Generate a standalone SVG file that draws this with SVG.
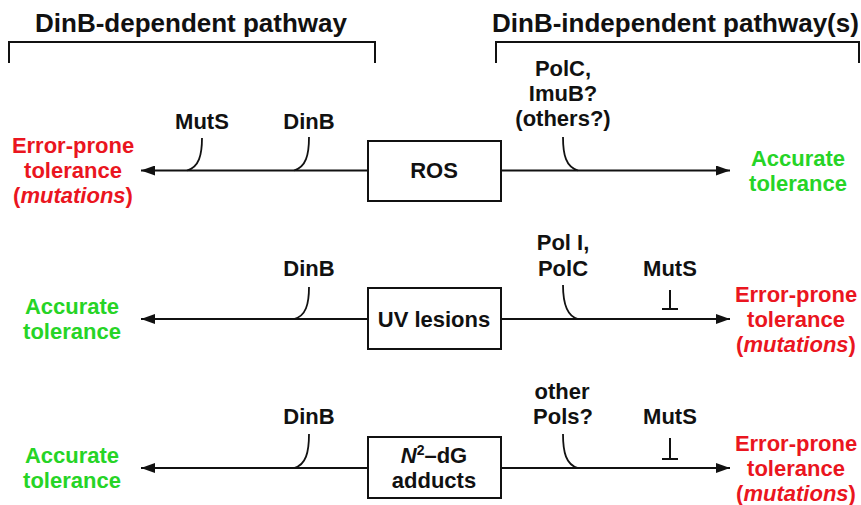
<svg xmlns="http://www.w3.org/2000/svg" width="861" height="505" viewBox="0 0 861 505">
<style>
text{font-family:"Liberation Sans",Arial,sans-serif;font-weight:bold;font-size:22px;text-anchor:middle;fill:#111}
.title{font-size:26px;text-anchor:start}
.red{fill:#ea1520}
.green{fill:#26d426}
.ln{stroke:#111;stroke-width:2;fill:none}
.cv{stroke:#111;stroke-width:1.8;fill:none}
.box{stroke:#111;stroke-width:2;fill:#fff}
</style>
<defs>
<marker id="ah" viewBox="0 0 14 10" refX="14" refY="5" markerWidth="14" markerHeight="10" markerUnits="userSpaceOnUse" orient="auto"><path d="M0,0 L14,5 L0,10 z" fill="#111"/></marker>
</defs>
<rect width="861" height="505" fill="#fff"/>
<g id="headers">
<text class="title" x="35" y="32">DinB-dependent pathway</text>
<path class="ln" d="M9,63 V42 H375 V63"/>
<text class="title" x="492" y="32">DinB-independent pathway(s)</text>
<path class="ln" d="M496,63 V42 H859 V63"/>
</g>
<g id="connectors">
<path class="ln" d="M368,170.5 H141" marker-end="url(#ah)"/>
<path class="ln" d="M501,170.5 H730" marker-end="url(#ah)"/>
<path class="cv" d="M202,138 C202,155 199,167 187,170.5"/>
<path class="cv" d="M309,137 C309,155 306,167 294,170.5"/>
<path class="cv" d="M563,137 C563,155 566,167 578,170.5"/>
<path class="ln" d="M368,319 H141" marker-end="url(#ah)"/>
<path class="ln" d="M501,319 H730" marker-end="url(#ah)"/>
<path class="cv" d="M309,287 C309,304 306,316 294,319"/>
<path class="cv" d="M563,285 C563,302 566,316 578,319"/>
<path class="ln" d="M670,290 V309 M662,309 H678"/>
<path class="ln" d="M368,468 H141" marker-end="url(#ah)"/>
<path class="ln" d="M501,468 H730" marker-end="url(#ah)"/>
<path class="cv" d="M309,434 C309,452 306,465 294,468"/>
<path class="cv" d="M563,434 C563,452 566,465 578,468"/>
<path class="ln" d="M670,438 V459 M662,459 H678"/>
</g>
<g id="ros">
<rect class="box" x="368" y="141" width="133" height="60"/>
<text x="434" y="178">ROS</text>
</g>
<g id="uv">
<rect class="box" x="368" y="288" width="133" height="61"/>
<text x="434" y="327">UV lesions</text>
</g>
<g id="adducts">
<rect class="box" x="368" y="437" width="133" height="61"/>
<text x="434" y="463"><tspan font-style="italic">N</tspan><tspan dy="-8" font-size="14">2</tspan><tspan dy="8">–dG</tspan></text>
<text x="434" y="488">adducts</text>
</g>
<g id="row1-labels">
<text x="202" y="129">MutS</text>
<text x="309" y="129">DinB</text>
<text x="563" y="76">PolC,</text>
<text x="563" y="101">ImuB?</text>
<text x="563" y="126">(others?)</text>
</g>
<g id="row1-left-outcome">
<text class="red" x="73" y="153">Error-prone</text>
<text class="red" x="73" y="178">tolerance</text>
<text class="red" x="73" y="203">(<tspan font-style="italic">mutations</tspan>)</text>
</g>
<g id="row1-right-outcome">
<text class="green" x="798" y="166">Accurate</text>
<text class="green" x="798" y="191">tolerance</text>
</g>
<g id="row2-labels">
<text x="309" y="276">DinB</text>
<text x="563" y="250">Pol I,</text>
<text x="563" y="276">PolC</text>
<text x="670" y="276">MutS</text>
</g>
<g id="row2-left-outcome">
<text class="green" x="72" y="314">Accurate</text>
<text class="green" x="72" y="339">tolerance</text>
</g>
<g id="row2-right-outcome">
<text class="red" x="796" y="302">Error-prone</text>
<text class="red" x="796" y="327">tolerance</text>
<text class="red" x="796" y="352">(<tspan font-style="italic">mutations</tspan>)</text>
</g>
<g id="row3-labels">
<text x="309" y="424">DinB</text>
<text x="562" y="399">other</text>
<text x="563" y="424">Pols?</text>
<text x="670" y="424">MutS</text>
</g>
<g id="row3-left-outcome">
<text class="green" x="72" y="463">Accurate</text>
<text class="green" x="72" y="488">tolerance</text>
</g>
<g id="row3-right-outcome">
<text class="red" x="796" y="451">Error-prone</text>
<text class="red" x="796" y="476">tolerance</text>
<text class="red" x="796" y="501">(<tspan font-style="italic">mutations</tspan>)</text>
</g>
</svg>
